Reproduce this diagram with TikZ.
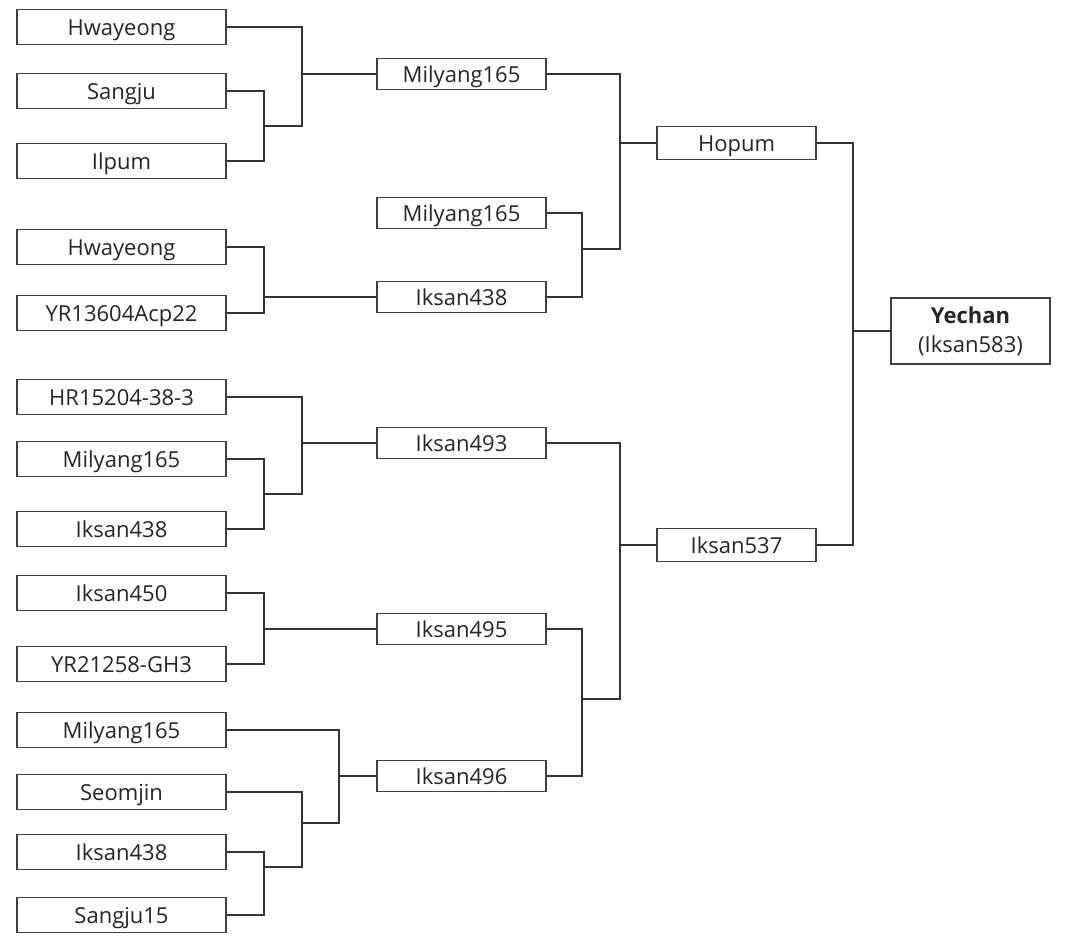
\documentclass[tikz,border=0pt]{standalone}
\usepackage{fontspec}
\setmainfont{Open Sans}
\usepackage{xcolor}
\usetikzlibrary{positioning, calc}

\begin{document}
\begin{tikzpicture}[
    x=1pt, y=-1pt,
    cvbox/.style={rectangle, draw=black!75, line width=1.6pt, fill=white, inner sep=0pt, align=center, font=\fontsize{22}{28}\selectfont, text=black!85, text height=17.5pt, text depth=0pt},
    lbox/.style={cvbox, minimum width=209pt, minimum height=35pt},
    mbox/.style={cvbox, minimum width=169pt, minimum height=31pt},
    rbox/.style={cvbox, minimum width=159pt, minimum height=33pt},
    link/.style={line width=1.4pt, color=black!80}
]

\fill[white] (0,0) rectangle (1065,947);
\useasboundingbox (0,0) rectangle (1065,947);

% parents (left column)
\node[lbox] (hw1) at (121.5,27) {Hwayeong};
\node[lbox] (sj) at (121.5,91) {Sangju};
\node[lbox] (ip) at (121.5,161) {Ilpum};
\node[lbox] (hw2) at (121.5,247) {Hwayeong};
\node[lbox] (yr136) at (121.5,313) {YR13604Acp22};
\node[lbox] (hr152) at (121.5,397) {HR15204-38-3};
\node[lbox] (my1) at (121.5,459) {Milyang165};
\node[lbox] (ik438a) at (121.5,529) {Iksan438};
\node[lbox] (ik450) at (121.5,593) {Iksan450};
\node[lbox] (yr212) at (121.5,664) {YR21258-GH3};
\node[lbox] (my2) at (121.5,730) {Milyang165};
\node[lbox] (sm) at (121.5,792) {Seomjin};
\node[lbox] (ik438b) at (121.5,852) {Iksan438};
\node[lbox] (sj15) at (121.5,915) {Sangju15};

% intermediate lines
\node[mbox] (my165a) at (461.5,74) {Milyang165};
\node[mbox] (my165b) at (461.5,213) {Milyang165};
\node[mbox] (ik438m) at (461.5,297) {Iksan438};
\node[mbox] (ik493) at (461.5,443) {Iksan493};
\node[mbox] (ik495) at (461.5,629) {Iksan495};
\node[mbox] (ik496) at (461.5,776) {Iksan496};

\node[rbox] (hopum) at (736.5,143) {Hopum};
\node[rbox] (ik537) at (736.5,545) {Iksan537};

\node[rbox, minimum height=66pt, text height=, text depth=, font=\fontsize{22}{29}\selectfont] (yechan) at (970.5,331) {\textbf{Yechan}\\(Iksan583)};

% crosses
\coordinate (j1) at (264,126);
\draw[link] (sj.east) -| (j1) |- (ip.east);
\coordinate (j2) at (302,74);
\draw[link] (hw1.east) -| (j2) |- (j1);
\draw[link] (j2) -- (my165a.west);

\coordinate (j3) at (264,297);
\draw[link] (hw2.east) -| (j3) |- (yr136.east);
\draw[link] (j3) -- (ik438m.west);

\coordinate (j4) at (582,249);
\draw[link] (my165b.east) -| (j4) |- (ik438m.east);
\coordinate (j5) at (620,143);
\draw[link] (my165a.east) -| (j5) |- (j4);
\draw[link] (j5) -- (hopum.west);

\coordinate (j6) at (264,494);
\draw[link] (my1.east) -| (j6) |- (ik438a.east);
\coordinate (j7) at (302,443);
\draw[link] (hr152.east) -| (j7) |- (j6);
\draw[link] (j7) -- (ik493.west);

\coordinate (j8) at (264,629);
\draw[link] (ik450.east) -| (j8) |- (yr212.east);
\draw[link] (j8) -- (ik495.west);

\coordinate (j9) at (264,867);
\draw[link] (ik438b.east) -| (j9) |- (sj15.east);
\coordinate (j10) at (302,823);
\draw[link] (sm.east) -| (j10) |- (j9);
\coordinate (j11) at (339,776);
\draw[link] (my2.east) -| (j11) |- (j10);
\draw[link] (j11) -- (ik496.west);

\coordinate (j12) at (582,699);
\draw[link] (ik495.east) -| (j12) |- (ik496.east);
\coordinate (j13) at (620,545);
\draw[link] (ik493.east) -| (j13) |- (j12);
\draw[link] (j13) -- (ik537.west);

\coordinate (j14) at (853,331);
\draw[link] (hopum.east) -| (j14) |- (ik537.east);
\draw[link] (j14) -- (yechan.west);

\end{tikzpicture}
\end{document}
